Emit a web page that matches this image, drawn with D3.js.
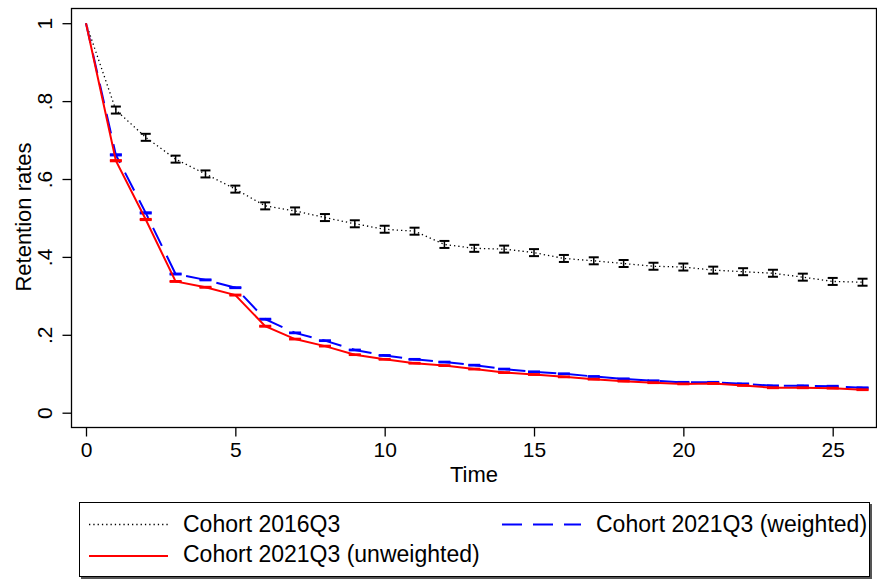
<!DOCTYPE html>
<html>
<head>
<meta charset="utf-8">
<script src="https://cdn.jsdelivr.net/npm/d3@7"></script>
<style>
  html, body { margin: 0; padding: 0; background: #fff; }
  svg text { font-family: "Liberation Sans", Arial, sans-serif; fill: #000; }
</style>
</head>
<body>
<div class="container-viewer"></div>
<script>
//* DATOS *//
// Periodos (eje x)
const times = [0, 1, 2, 3, 4, 5, 6, 7, 8, 9, 10, 11, 12, 13, 14, 15, 16, 17, 18, 19, 20, 21, 22, 23, 24, 25, 26];
// Tasas de retencion
const cohort2016 = [1, 0.777, 0.707, 0.651, 0.613, 0.574, 0.531, 0.518, 0.501, 0.485, 0.471, 0.466, 0.432, 0.422, 0.420, 0.411, 0.396, 0.390, 0.383, 0.376, 0.374, 0.366, 0.362, 0.358, 0.348, 0.337, 0.335];
const cohort2021w = [1, 0.662, 0.513, 0.356, 0.341, 0.321, 0.240, 0.205, 0.185, 0.161, 0.147, 0.137, 0.130, 0.122, 0.112, 0.105, 0.100, 0.093, 0.087, 0.082, 0.078, 0.078, 0.074, 0.069, 0.069, 0.068, 0.064];
const cohort2021u = [1, 0.647, 0.496, 0.337, 0.322, 0.302, 0.222, 0.189, 0.171, 0.149, 0.137, 0.127, 0.121, 0.112, 0.103, 0.098, 0.092, 0.086, 0.081, 0.077, 0.074, 0.075, 0.070, 0.064, 0.064, 0.063, 0.059];
// Semi-amplitud de los intervalos de confianza
const ci2016 = [0, 0.009, 0.009, 0.009, 0.009, 0.009, 0.009, 0.009, 0.009, 0.009, 0.009, 0.009, 0.009, 0.009, 0.009, 0.009, 0.009, 0.009, 0.009, 0.009, 0.009, 0.009, 0.009, 0.009, 0.009, 0.009, 0.009];
const ci2021 = [0, 0.0015, 0.0015, 0.0012, 0.0012, 0.0012, 0.0012, 0.001, 0.001, 0.001, 0.001, 0.001, 0.001, 0.001, 0.001, 0.001, 0.001, 0.001, 0.001, 0.001, 0.001, 0.001, 0.001, 0.001, 0.001, 0.001, 0.001];
// Ticks y etiquetas
const xTicks = [0, 5, 10, 15, 20, 25];
const yTicks = [0, 0.2, 0.4, 0.6, 0.8, 1];
const yTickLabels = ['0', '.2', '.4', '.6', '.8', '1'];
const legendLabels = ['Cohort 2016Q3', 'Cohort 2021Q3 (weighted)', 'Cohort 2021Q3 (unweighted)'];

//-------------

//* DIBUJO *//
const width = 877;
const height = 580;

const svg = d3.select('.container-viewer').append('svg').attr('width', width).attr('height', height);

// Escalas
const x = d3.scaleLinear().domain([0, 26.45]).range([86, 876]);
const y = d3.scaleLinear().domain([0, 1]).range([412.7, 23.2]);

const plotLeft = 71.5, plotTop = 8.5, plotRight = 876.5, plotBottom = 427.5;

// Marco del area de trazado
svg.append('rect')
	.attr('x', plotLeft).attr('y', plotTop)
	.attr('width', plotRight - plotLeft).attr('height', plotBottom - plotTop)
	.attr('fill', 'none').attr('stroke', '#000').attr('stroke-width', 1.3);

// Eje x
const xAxis = svg.append('g').attr('transform', `translate(0,${plotBottom})`)
	.call(d3.axisBottom(x).tickValues(xTicks).tickSize(9).tickPadding(6).tickFormat(d3.format('d')));
xAxis.select('.domain').remove();
xAxis.selectAll('line').attr('stroke', '#000').attr('stroke-width', 1.3);
xAxis.selectAll('text').attr('font-size', 21).attr('font-family', '"Liberation Sans", Arial, sans-serif');

// Eje y (etiquetas giradas como en Stata)
const yAxis = svg.append('g').attr('transform', `translate(${plotLeft},0)`)
	.call(d3.axisLeft(y).tickValues(yTicks).tickSize(9).tickFormat((d, i) => yTickLabels[i]));
yAxis.select('.domain').remove();
yAxis.selectAll('line').attr('stroke', '#000').attr('stroke-width', 1.3);
yAxis.selectAll('text')
	.attr('font-size', 21).attr('font-family', '"Liberation Sans", Arial, sans-serif')
	.attr('x', null).attr('dy', null)
	.attr('text-anchor', 'middle')
	.attr('transform', 'translate(-20,0) rotate(-90)');

// Titulos de ejes
svg.append('text').attr('x', 474).attr('y', 482).attr('text-anchor', 'middle').attr('font-size', 22).text('Time');
svg.append('text').attr('transform', 'translate(31,217) rotate(-90)').attr('text-anchor', 'middle').attr('font-size', 22).text('Retention rates');

// Series
const series = [
	{ values: cohort2016, ci: ci2016, color: '#000', width: 1.3, dash: '1.3,3', capW: 5, capStroke: 2 },
	{ values: cohort2021w, ci: ci2021, color: '#0000ff', width: 2, dash: '20,11', capW: 6, capStroke: 2 },
	{ values: cohort2021u, ci: ci2021, color: '#ff0000', width: 2, dash: null, capW: 6, capStroke: 2 },
];

const line = d3.line().x((d) => x(d.t)).y((d) => y(d.v));

series.forEach((s) => {
	const pts = times.map((t, i) => ({ t, v: s.values[i], c: s.ci[i] }));
	svg.append('path')
		.datum(pts)
		.attr('d', line)
		.attr('fill', 'none')
		.attr('stroke', s.color)
		.attr('stroke-width', s.width)
		.attr('stroke-dasharray', s.dash);

	// Intervalos de confianza (forma de H)
	const bars = svg.append('g').selectAll('g').data(pts.filter((d) => d.c > 0)).enter().append('g');
	bars.append('line')
		.attr('x1', (d) => x(d.t)).attr('x2', (d) => x(d.t))
		.attr('y1', (d) => y(d.v - d.c)).attr('y2', (d) => y(d.v + d.c))
		.attr('stroke', s.color).attr('stroke-width', 1.5);
	[-1, 1].forEach((sign) => {
		bars.append('line')
			.attr('x1', (d) => x(d.t) - s.capW).attr('x2', (d) => x(d.t) + s.capW)
			.attr('y1', (d) => y(d.v + sign * d.c)).attr('y2', (d) => y(d.v + sign * d.c))
			.attr('stroke', s.color).attr('stroke-width', s.capStroke);
	});
});

// Leyenda
const legend = svg.append('g');
legend.append('rect').attr('x', 81).attr('y', 504).attr('width', 791).attr('height', 75).attr('fill', '#555');
legend.append('rect').attr('x', 79.5).attr('y', 502.5).attr('width', 790).attr('height', 74)
	.attr('fill', '#fff').attr('stroke', '#000').attr('stroke-width', 1);

const legendItems = [
	{ label: legendLabels[0], s: series[0], kx: 89, ky: 524.5, tx: 183, ty: 532 },
	{ label: legendLabels[1], s: series[1], kx: 502, ky: 524.5, tx: 596, ty: 532 },
	{ label: legendLabels[2], s: series[2], kx: 89, ky: 556, tx: 183, ty: 562 },
];
legendItems.forEach((d) => {
	legend.append('line')
		.attr('x1', d.kx).attr('x2', d.kx + 79).attr('y1', d.ky).attr('y2', d.ky)
		.attr('stroke', d.s.color).attr('stroke-width', d.s.width).attr('stroke-dasharray', d.s.dash);
	legend.append('text').attr('x', d.tx).attr('y', d.ty).attr('font-size', 23).text(d.label);
});
</script>
</body>
</html>
